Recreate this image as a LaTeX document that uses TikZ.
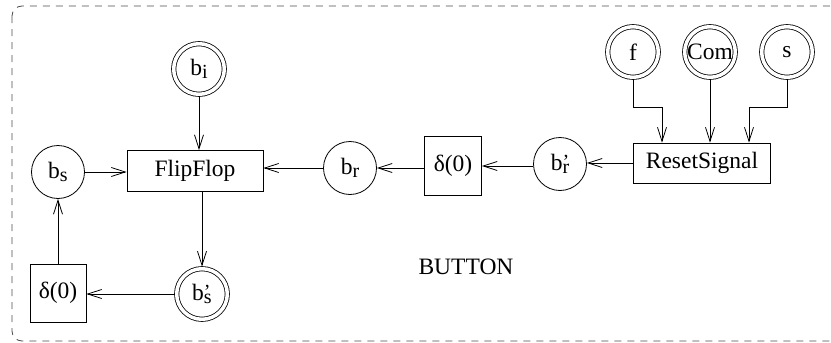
\documentclass[tikz,border=0pt]{standalone}
\usepackage{fontspec}
\setmainfont{Liberation Serif}
\usetikzlibrary{arrows.meta}

% subscripts, with and without a prime above them
\newcommand\lowsub[1]{\raisebox{-3.5pt}{\fontsize{20}{20}\selectfont #1}}
\newcommand\lowsubp[1]{\raisebox{-3.5pt}{\fontsize{20}{20}\selectfont\rlap{\raisebox{5pt}{’}}#1}}

\tikzset{
  every node/.style={font=\fontsize{23.5}{28}\selectfont, inner sep=0pt},
  unit/.style={draw, line width=0.8pt, circle, minimum size=53pt, outer sep=0.4pt},
  port/.style={draw, line width=0.8pt, circle, double, double distance=3.5pt,
               minimum size=50.6pt, outer sep=2.15pt},
  block/.style={draw, line width=0.8pt, rectangle, outer sep=0.4pt},
  flow/.style={line width=0.8pt, -{Straight Barb[length=14pt,width=9pt,line width=0.8pt]}},
}

\begin{document}
\begin{tikzpicture}[x=1pt,y=-1pt]
\useasboundingbox (0,0) rectangle (831,343);

% frame of the BUTTON component
\draw[line width=0.8pt, gray!60!black, dash pattern=on 7pt off 6pt, rounded corners=10pt]
  (12,6) rectangle (845,341);

% left part: flip-flop loop
\node[port]  (bi)  at (199,69)  {b\lowsub{i}};
\node[block, minimum width=136pt, minimum height=41pt] (ff) at (195,171) {FlipFlop};
\node[unit]  (bs)  at (58,172)  {b\lowsub{s}};
\node[block, minimum width=56pt, minimum height=58pt] (dl) at (58,293) {δ(0)};
\node[port]  (bsp) at (202,294) {b\lowsubp{s}};

% middle part: reset path
\node[unit]  (br)  at (350,168) {b\lowsub{r}};
\node[block, minimum width=57pt, minimum height=59pt] (dm) at (453,166) {δ(0)};
\node[unit]  (brp) at (560,164) {b\lowsubp{r}};
\node[block, minimum width=137pt, minimum height=40pt] (rs) at (702,163) {ResetSignal};

% inputs of the reset signal
\node[port]  (f)   at (633,52) {f};
\node[port]  (com) at (710,52) {Com};
\node[port]  (s)   at (787,52) {s};

\node (lbl) at (466,267) {BUTTON};

% connectors
\draw[flow] (bi.south) -- (bi.south |- ff.north);
\draw[flow] (bs.east) -- (bs.east -| ff.west);
\draw[flow] (bsp.north |- ff.south) -- (bsp.north);
\draw[flow] (bsp.west) -- (bsp.west -| dl.east);
\draw[flow] (dl.north) -- (dl.north |- bs.south);

\draw[flow] (br.west) -- (br.west -| ff.east);
\draw[flow] (dm.west |- br.east) -- (br.east);
\draw[flow] (brp.west |- dm.east) -- (dm.east);
\draw[flow] (rs.west) -- (rs.west -| brp.east);

\draw[flow] (f.south) -- ++(0,28) -| ([xshift=-40pt]rs.north);
\draw[flow] (com.south) -- (com.south |- rs.north);
\draw[flow] (s.south) -- ++(0,28) -| ([xshift=47pt]rs.north);
\end{tikzpicture}
\end{document}
